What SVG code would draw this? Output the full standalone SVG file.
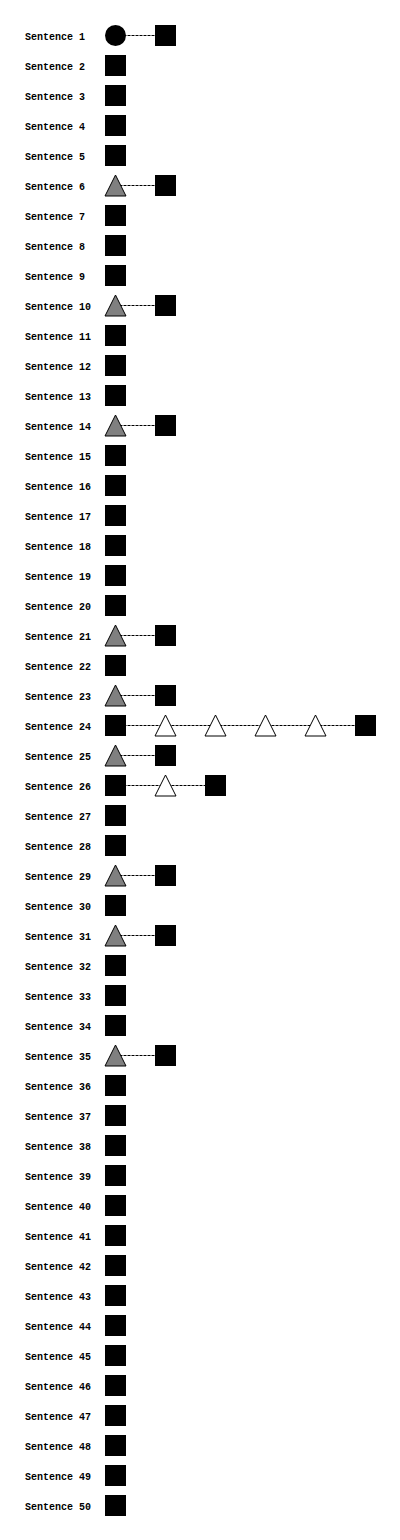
<svg xmlns="http://www.w3.org/2000/svg" xmlns:xlink="http://www.w3.org/1999/xlink" width="400" height="1540" viewBox="0 0 400 1540">
<style>
.lbl{font-family:"Liberation Mono","DejaVu Sans Mono",monospace;font-size:10px;font-weight:bold;fill:#000}
.sq{fill:#000}
.tg{fill:#808080;stroke:#000;stroke-width:1}
.tw{fill:#fff;stroke:#000;stroke-width:1}
.ln{stroke:#000;stroke-width:1;stroke-dasharray:3 1;fill:none}
</style>
<defs>
<rect id="S" x="-10.5" y="-10.5" width="21" height="21"/>
<polygon id="T" points="0,-10.5 -10.5,10.5 10.5,10.5"/>
</defs>
<rect width="400" height="1540" fill="#fff"/>
<g id="connectors">
<line class="ln" x1="115.5" y1="35.5" x2="165.5" y2="35.5"/>
<line class="ln" x1="115.5" y1="185.5" x2="165.5" y2="185.5"/>
<line class="ln" x1="115.5" y1="305.5" x2="165.5" y2="305.5"/>
<line class="ln" x1="115.5" y1="425.5" x2="165.5" y2="425.5"/>
<line class="ln" x1="115.5" y1="635.5" x2="165.5" y2="635.5"/>
<line class="ln" x1="115.5" y1="695.5" x2="165.5" y2="695.5"/>
<line class="ln" x1="115.5" y1="725.5" x2="365.5" y2="725.5"/>
<line class="ln" x1="115.5" y1="755.5" x2="165.5" y2="755.5"/>
<line class="ln" x1="115.5" y1="785.5" x2="215.5" y2="785.5"/>
<line class="ln" x1="115.5" y1="875.5" x2="165.5" y2="875.5"/>
<line class="ln" x1="115.5" y1="935.5" x2="165.5" y2="935.5"/>
<line class="ln" x1="115.5" y1="1055.5" x2="165.5" y2="1055.5"/>
</g>
<g id="n1"><text class="lbl" x="25" y="40">Sentence 1</text><circle cx="115.5" cy="35.5" r="10.5" fill="#000"/><use xlink:href="#S" class="sq" x="165.5" y="35.5"/></g>
<g id="n2"><text class="lbl" x="25" y="70">Sentence 2</text><use xlink:href="#S" class="sq" x="115.5" y="65.5"/></g>
<g id="n3"><text class="lbl" x="25" y="100">Sentence 3</text><use xlink:href="#S" class="sq" x="115.5" y="95.5"/></g>
<g id="n4"><text class="lbl" x="25" y="130">Sentence 4</text><use xlink:href="#S" class="sq" x="115.5" y="125.5"/></g>
<g id="n5"><text class="lbl" x="25" y="160">Sentence 5</text><use xlink:href="#S" class="sq" x="115.5" y="155.5"/></g>
<g id="n6"><text class="lbl" x="25" y="190">Sentence 6</text><use xlink:href="#T" class="tg" x="115.5" y="185.5"/><use xlink:href="#S" class="sq" x="165.5" y="185.5"/></g>
<g id="n7"><text class="lbl" x="25" y="220">Sentence 7</text><use xlink:href="#S" class="sq" x="115.5" y="215.5"/></g>
<g id="n8"><text class="lbl" x="25" y="250">Sentence 8</text><use xlink:href="#S" class="sq" x="115.5" y="245.5"/></g>
<g id="n9"><text class="lbl" x="25" y="280">Sentence 9</text><use xlink:href="#S" class="sq" x="115.5" y="275.5"/></g>
<g id="n10"><text class="lbl" x="25" y="310">Sentence 10</text><use xlink:href="#T" class="tg" x="115.5" y="305.5"/><use xlink:href="#S" class="sq" x="165.5" y="305.5"/></g>
<g id="n11"><text class="lbl" x="25" y="340">Sentence 11</text><use xlink:href="#S" class="sq" x="115.5" y="335.5"/></g>
<g id="n12"><text class="lbl" x="25" y="370">Sentence 12</text><use xlink:href="#S" class="sq" x="115.5" y="365.5"/></g>
<g id="n13"><text class="lbl" x="25" y="400">Sentence 13</text><use xlink:href="#S" class="sq" x="115.5" y="395.5"/></g>
<g id="n14"><text class="lbl" x="25" y="430">Sentence 14</text><use xlink:href="#T" class="tg" x="115.5" y="425.5"/><use xlink:href="#S" class="sq" x="165.5" y="425.5"/></g>
<g id="n15"><text class="lbl" x="25" y="460">Sentence 15</text><use xlink:href="#S" class="sq" x="115.5" y="455.5"/></g>
<g id="n16"><text class="lbl" x="25" y="490">Sentence 16</text><use xlink:href="#S" class="sq" x="115.5" y="485.5"/></g>
<g id="n17"><text class="lbl" x="25" y="520">Sentence 17</text><use xlink:href="#S" class="sq" x="115.5" y="515.5"/></g>
<g id="n18"><text class="lbl" x="25" y="550">Sentence 18</text><use xlink:href="#S" class="sq" x="115.5" y="545.5"/></g>
<g id="n19"><text class="lbl" x="25" y="580">Sentence 19</text><use xlink:href="#S" class="sq" x="115.5" y="575.5"/></g>
<g id="n20"><text class="lbl" x="25" y="610">Sentence 20</text><use xlink:href="#S" class="sq" x="115.5" y="605.5"/></g>
<g id="n21"><text class="lbl" x="25" y="640">Sentence 21</text><use xlink:href="#T" class="tg" x="115.5" y="635.5"/><use xlink:href="#S" class="sq" x="165.5" y="635.5"/></g>
<g id="n22"><text class="lbl" x="25" y="670">Sentence 22</text><use xlink:href="#S" class="sq" x="115.5" y="665.5"/></g>
<g id="n23"><text class="lbl" x="25" y="700">Sentence 23</text><use xlink:href="#T" class="tg" x="115.5" y="695.5"/><use xlink:href="#S" class="sq" x="165.5" y="695.5"/></g>
<g id="n24"><text class="lbl" x="25" y="730">Sentence 24</text><use xlink:href="#S" class="sq" x="115.5" y="725.5"/><use xlink:href="#T" class="tw" x="165.5" y="725.5"/><use xlink:href="#T" class="tw" x="215.5" y="725.5"/><use xlink:href="#T" class="tw" x="265.5" y="725.5"/><use xlink:href="#T" class="tw" x="315.5" y="725.5"/><use xlink:href="#S" class="sq" x="365.5" y="725.5"/></g>
<g id="n25"><text class="lbl" x="25" y="760">Sentence 25</text><use xlink:href="#T" class="tg" x="115.5" y="755.5"/><use xlink:href="#S" class="sq" x="165.5" y="755.5"/></g>
<g id="n26"><text class="lbl" x="25" y="790">Sentence 26</text><use xlink:href="#S" class="sq" x="115.5" y="785.5"/><use xlink:href="#T" class="tw" x="165.5" y="785.5"/><use xlink:href="#S" class="sq" x="215.5" y="785.5"/></g>
<g id="n27"><text class="lbl" x="25" y="820">Sentence 27</text><use xlink:href="#S" class="sq" x="115.5" y="815.5"/></g>
<g id="n28"><text class="lbl" x="25" y="850">Sentence 28</text><use xlink:href="#S" class="sq" x="115.5" y="845.5"/></g>
<g id="n29"><text class="lbl" x="25" y="880">Sentence 29</text><use xlink:href="#T" class="tg" x="115.5" y="875.5"/><use xlink:href="#S" class="sq" x="165.5" y="875.5"/></g>
<g id="n30"><text class="lbl" x="25" y="910">Sentence 30</text><use xlink:href="#S" class="sq" x="115.5" y="905.5"/></g>
<g id="n31"><text class="lbl" x="25" y="940">Sentence 31</text><use xlink:href="#T" class="tg" x="115.5" y="935.5"/><use xlink:href="#S" class="sq" x="165.5" y="935.5"/></g>
<g id="n32"><text class="lbl" x="25" y="970">Sentence 32</text><use xlink:href="#S" class="sq" x="115.5" y="965.5"/></g>
<g id="n33"><text class="lbl" x="25" y="1000">Sentence 33</text><use xlink:href="#S" class="sq" x="115.5" y="995.5"/></g>
<g id="n34"><text class="lbl" x="25" y="1030">Sentence 34</text><use xlink:href="#S" class="sq" x="115.5" y="1025.5"/></g>
<g id="n35"><text class="lbl" x="25" y="1060">Sentence 35</text><use xlink:href="#T" class="tg" x="115.5" y="1055.5"/><use xlink:href="#S" class="sq" x="165.5" y="1055.5"/></g>
<g id="n36"><text class="lbl" x="25" y="1090">Sentence 36</text><use xlink:href="#S" class="sq" x="115.5" y="1085.5"/></g>
<g id="n37"><text class="lbl" x="25" y="1120">Sentence 37</text><use xlink:href="#S" class="sq" x="115.5" y="1115.5"/></g>
<g id="n38"><text class="lbl" x="25" y="1150">Sentence 38</text><use xlink:href="#S" class="sq" x="115.5" y="1145.5"/></g>
<g id="n39"><text class="lbl" x="25" y="1180">Sentence 39</text><use xlink:href="#S" class="sq" x="115.5" y="1175.5"/></g>
<g id="n40"><text class="lbl" x="25" y="1210">Sentence 40</text><use xlink:href="#S" class="sq" x="115.5" y="1205.5"/></g>
<g id="n41"><text class="lbl" x="25" y="1240">Sentence 41</text><use xlink:href="#S" class="sq" x="115.5" y="1235.5"/></g>
<g id="n42"><text class="lbl" x="25" y="1270">Sentence 42</text><use xlink:href="#S" class="sq" x="115.5" y="1265.5"/></g>
<g id="n43"><text class="lbl" x="25" y="1300">Sentence 43</text><use xlink:href="#S" class="sq" x="115.5" y="1295.5"/></g>
<g id="n44"><text class="lbl" x="25" y="1330">Sentence 44</text><use xlink:href="#S" class="sq" x="115.5" y="1325.5"/></g>
<g id="n45"><text class="lbl" x="25" y="1360">Sentence 45</text><use xlink:href="#S" class="sq" x="115.5" y="1355.5"/></g>
<g id="n46"><text class="lbl" x="25" y="1390">Sentence 46</text><use xlink:href="#S" class="sq" x="115.5" y="1385.5"/></g>
<g id="n47"><text class="lbl" x="25" y="1420">Sentence 47</text><use xlink:href="#S" class="sq" x="115.5" y="1415.5"/></g>
<g id="n48"><text class="lbl" x="25" y="1450">Sentence 48</text><use xlink:href="#S" class="sq" x="115.5" y="1445.5"/></g>
<g id="n49"><text class="lbl" x="25" y="1480">Sentence 49</text><use xlink:href="#S" class="sq" x="115.5" y="1475.5"/></g>
<g id="n50"><text class="lbl" x="25" y="1510">Sentence 50</text><use xlink:href="#S" class="sq" x="115.5" y="1505.5"/></g>
</svg>
